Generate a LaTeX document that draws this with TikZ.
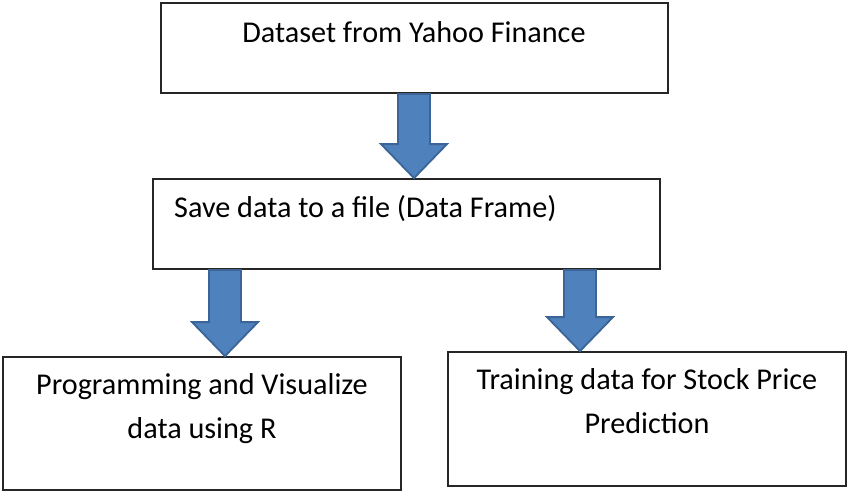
\documentclass[tikz,border=0pt]{standalone}
\usepackage{fontspec}
\setmainfont{Carlito}
\usetikzlibrary{calc}
\definecolor{arrfill}{HTML}{4F81BD}
\definecolor{arrdraw}{HTML}{3A6596}
\definecolor{boxline}{HTML}{262626}
% block arrow from #1 (shaft start) to #2 (tip), vertical
\newcommand\blockarrow[2]{%
  \draw[barrow] let \p1=(#1), \p2=(#2) in
    ({\x1-16pt},\y1) -- ({\x1+16pt},\y1) -- ({\x1+16pt},{\y2+34pt})
    -- ({\x1+33pt},{\y2+34pt}) -- (\x1,\y2) -- ({\x1-33pt},{\y2+34pt})
    -- ({\x1-16pt},{\y2+34pt}) -- cycle;}
\begin{document}
\begin{tikzpicture}[x=1pt,y=-1pt,
  box/.style={draw=boxline,line width=1.8pt,inner sep=0pt,fill=white},
  txt/.style={inner sep=0pt,font=\fontsize{30.2}{44}\selectfont,align=center},
  barrow/.style={fill=arrfill,draw=arrdraw,line width=1.8pt,line join=miter}]
\useasboundingbox (0,0) rectangle (850,495);
\fill[white] (0,0) rectangle (850,495);
% boxes
\node[box,minimum width=507pt,minimum height=90pt] (top) at (414.5,48) {};
\node[box,minimum width=507pt,minimum height=90pt] (save) at (406.5,224) {};
\node[box,minimum width=398pt,minimum height=133pt] (bl) at (202,423.5) {};
\node[box,minimum width=398pt,minimum height=134pt] (br) at (647,419) {};
% texts
\node[txt,anchor=base] (ttop) at (414,42) {Dataset from Yahoo Finance};
\node[txt,anchor=base west] (tsave) at (174,217) {Save data to a file (Data Frame)};
\node[txt,anchor=base] (tbl) at (202,438) {Programming and Visualize\\data using R};
\node[txt,anchor=base] (tbr) at (647,433) {Training data for Stock Price\\Prediction};
% arrows
\coordinate (c1) at (414,0);
\coordinate (c2) at (225,0);
\coordinate (c3) at (580,0);
\blockarrow{top.south -| c1}{save.north -| c1}
\blockarrow{save.south -| c2}{bl.north -| c2}
\blockarrow{save.south -| c3}{br.north -| c3}
\end{tikzpicture}
\end{document}
